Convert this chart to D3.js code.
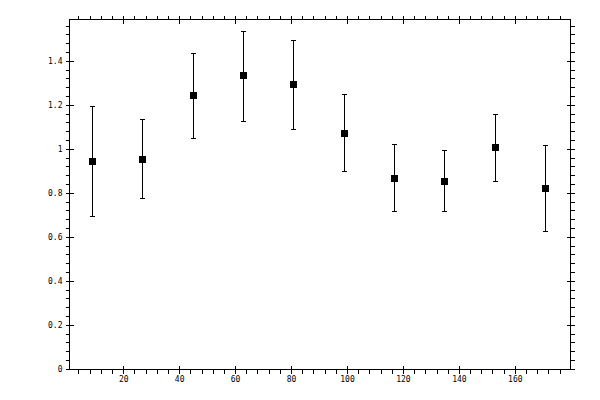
<!DOCTYPE html>
<html>
<head>
<meta charset="utf-8">
<script src="https://cdn.jsdelivr.net/npm/d3@7"></script>
<style>
  body { margin: 0; background: #fff; }
  text { font-family: "DejaVu Sans Mono", monospace; font-size: 8px; fill: #000; }
</style>
</head>
<body>
<svg id="chart"></svg>
<script>
// bin centres (degrees) and measured ratio with error bounds
let xValues = [9, 27, 45, 63, 81, 99, 117, 135, 153, 171]
let yValues = [0.942, 0.951, 1.242, 1.333, 1.293, 1.069, 0.865, 0.851, 1.005, 0.819]
let yUpper  = [1.192, 1.133, 1.433, 1.535, 1.492, 1.245, 1.019, 0.992, 1.155, 1.015]
let yLower  = [0.692, 0.774, 1.048, 1.125, 1.089, 0.898, 0.715, 0.715, 0.851, 0.624]

let xMajorTicks = [20, 40, 60, 80, 100, 120, 140, 160]
let xTickLabels = ["20", "40", "60", "80", "100", "120", "140", "160"]
let yMajorTicks = [0, 0.2, 0.4, 0.6, 0.8, 1, 1.2, 1.4]
let yTickLabels = ["0", "0.2", "0.4", "0.6", "0.8", "1", "1.2", "1.4"]

let width = 600
let height = 400

let svg = d3.select('#chart')
            .attr('width', width)
            .attr('height', height)

let x = d3.scaleLinear().domain([0.8, 179.9]).range([69.5, 570.5])
let y = d3.scaleLinear().domain([-0.003, 1.588]).range([369.5, 19.5])

// minor ticks every 4 on x, every 0.04 on y
let xMinorTicks = d3.range(4, 180, 4)
let yMinorTicks = d3.range(0, 40).map((i) => +(i * 0.04).toFixed(2))

let drawAxis = (axisFn, scale, pos, values, size, labels) => {
    let g = svg.append('g')
               .attr('transform', pos)
               .attr('shape-rendering', 'crispEdges')
    let ax = axisFn(scale).tickValues(values).tickSize(size)
    if (labels) {
        ax.tickPadding(3).tickFormat((d, i) => labels[i])
    } else {
        ax.tickFormat('')
    }
    g.call(ax)
    g.select('.domain').remove()
    g.selectAll('line').attr('stroke', '#000')
    g.selectAll('text').attr('font-family', '"DejaVu Sans Mono", monospace').attr('font-size', '8px')
    return g
}

let posLeft = 'translate(' + x.range()[0] + ',0)'
let posRight = 'translate(' + x.range()[1] + ',0)'
let posBottom = 'translate(0,' + y.range()[0] + ')'
let posTop = 'translate(0,' + y.range()[1] + ')'

// outside minor ticks on all four sides
drawAxis(d3.axisLeft, y, posLeft, yMinorTicks, 4)
drawAxis(d3.axisRight, y, posRight, yMinorTicks, 4)
drawAxis(d3.axisBottom, x, posBottom, xMinorTicks, 4)
drawAxis(d3.axisTop, x, posTop, xMinorTicks, 4)

// major ticks cross the frame
drawAxis(d3.axisLeft, y, posLeft, yMajorTicks, 4, yTickLabels)
drawAxis(d3.axisLeft, y, posLeft, yMajorTicks, -4)
drawAxis(d3.axisRight, y, posRight, yMajorTicks, 4)
drawAxis(d3.axisRight, y, posRight, yMajorTicks, -4)
drawAxis(d3.axisBottom, x, posBottom, xMajorTicks, 4, xTickLabels)
drawAxis(d3.axisBottom, x, posBottom, xMajorTicks, -4)
drawAxis(d3.axisTop, x, posTop, xMajorTicks, 4)
drawAxis(d3.axisTop, x, posTop, xMajorTicks, -4)

// frame
svg.append('rect')
   .attr('x', x.range()[0])
   .attr('y', y.range()[1])
   .attr('width', x.range()[1] - x.range()[0])
   .attr('height', y.range()[0] - y.range()[1])
   .attr('fill', 'none')
   .attr('stroke', '#000')
   .attr('stroke-width', 1)
   .attr('shape-rendering', 'crispEdges')

let points = xValues.map((v, i) => {
    return {x: v, y: yValues[i], hi: yUpper[i], lo: yLower[i]}
})

let bars = svg.append('g')
              .attr('stroke', '#000')
              .attr('stroke-width', 1)
              .attr('shape-rendering', 'crispEdges')

bars.selectAll('.err')
    .data(points)
    .enter()
    .append('line')
    .attr('x1', (d) => x(d.x))
    .attr('x2', (d) => x(d.x))
    .attr('y1', (d) => y(d.hi))
    .attr('y2', (d) => y(d.lo))

bars.selectAll('.capHi')
    .data(points)
    .enter()
    .append('line')
    .attr('x1', (d) => x(d.x) - 2.5)
    .attr('x2', (d) => x(d.x) + 2.5)
    .attr('y1', (d) => y(d.hi))
    .attr('y2', (d) => y(d.hi))

bars.selectAll('.capLo')
    .data(points)
    .enter()
    .append('line')
    .attr('x1', (d) => x(d.x) - 2.5)
    .attr('x2', (d) => x(d.x) + 2.5)
    .attr('y1', (d) => y(d.lo))
    .attr('y2', (d) => y(d.lo))

svg.append('g')
   .selectAll('rect')
   .data(points)
   .enter()
   .append('rect')
   .attr('x', (d) => x(d.x) - 3.5)
   .attr('y', (d) => y(d.y) - 3.5)
   .attr('width', 7)
   .attr('height', 7)
   .attr('fill', '#000')
   .attr('shape-rendering', 'crispEdges')
</script>
</body>
</html>
